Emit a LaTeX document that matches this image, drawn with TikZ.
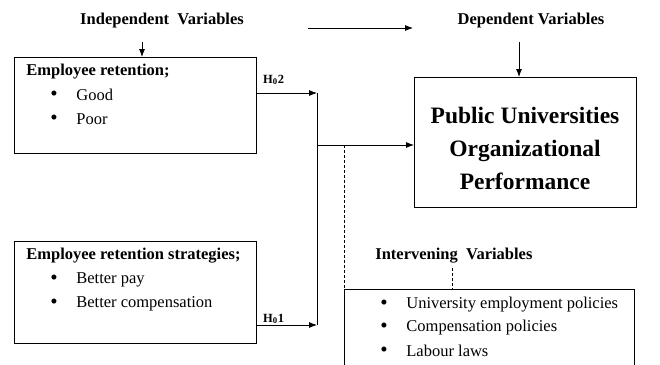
\documentclass[tikz,border=0pt]{standalone}
\usepackage{fontspec}
\setmainfont{Liberation Serif}
\usetikzlibrary{arrows.meta, positioning, calc}

\newcommand{\bul}{\makebox[26pt][l]{\raisebox{-0.5pt}{\fontsize{21}{21}\selectfont\textbullet}}}

\begin{document}
\begin{tikzpicture}[x=1pt, y=-1pt,
        line width=0.8pt,
        box/.style={rectangle, draw=black, line width=0.8pt, inner sep=0pt},
        heading/.style={font=\bfseries\fontsize{16.5}{18}\selectfont, inner sep=0pt},
        item/.style={anchor=west, inner sep=0pt, font=\fontsize{16.5}{18}\selectfont},
        hyp/.style={inner sep=0pt, font=\bfseries\fontsize{12.5}{14}\selectfont},
        arrow/.style={-{Latex[length=8pt, width=6pt]}},
        dashedline/.style={dashed, dash pattern=on 3pt off 2pt, line width=0.6pt}
    ]
        \useasboundingbox (0,0) rectangle (660,364);
        \clip (0,0) rectangle (660,364);
        % headings
        \node[heading] (indep) at (162,21) {Independent\ \ Variables};
        \node[heading] (dep) at (531,21) {Dependent Variables};
        \node[heading, anchor=west] (intlbl) at (375,256) {Intervening\ \ Variables};
        % boxes
        \node[box, anchor=north west, minimum width=242, minimum height=96] (ret) at (14,57) {};
        \node[box, anchor=north west, minimum width=242, minimum height=102] (strat) at (14,241) {};
        \node[box, anchor=north west, minimum width=222, minimum height=130] (perf) at (414,77) {};
        \node[align=center, inner sep=0pt, font=\bfseries\fontsize{23.5}{33}\selectfont] (perftxt)
              at (525,148) {Public Universities\\Organizational\\Performance};
        \node[box, anchor=north west, minimum width=290, minimum height=100] (interv) at (344,289) {};
        % box contents
        \node[heading, anchor=west] (rettitle) at (26,72) {Employee retention;};
        \foreach \txt [count=\i] in {Good, Poor}
            \node[item] (ret-\i) at (50,71+24*\i) {\bul\txt};
        \node[heading, anchor=west] (strattitle) at (26,256) {Employee retention strategies;};
        \foreach \txt [count=\i] in {Better pay, Better compensation}
            \node[item] (strat-\i) at (50,256+24*\i) {\bul\txt};
        \foreach \txt [count=\i] in {University employment policies, Compensation policies, Labour laws}
            \node[item] (interv-\i) at (380,282+23*\i) {\bul\txt};
        % bus coordinates
        \coordinate (busTop) at (317,93);
        \coordinate (busBot) at (317,325);
        \coordinate (busMid) at (317,145);
        \coordinate (dashTop) at (344,145);
        \coordinate (flowA) at (308,28);
        \coordinate (flowB) at (413,28);
        \coordinate (indTip) at (142,42);
        \coordinate (depTip) at (519,42);
        \coordinate (intTip) at (452,268);
        % connectors
        \draw[arrow] (indTip) -- (indTip |- ret.north);
        \draw[arrow] (flowA) -- (flowB);
        \draw[arrow] (depTip) -- (depTip |- perf.north);
        \draw[arrow] (ret.east |- busTop) -- (busTop);
        \draw[arrow] (strat.east |- busBot) -- (busBot);
        \node[hyp, anchor=base west] (h2) at ([xshift=6pt, yshift=10pt]ret.east |- busTop) {H\textsubscript{0}2};
        \node[hyp, anchor=base west] (h1) at ([xshift=6pt, yshift=3pt]strat.east |- busBot) {H\textsubscript{0}1};
        \draw (busTop) -- (busBot);
        \draw[arrow] (busMid) -- (perf.west |- busMid);
        \draw[dashedline] (dashTop) -- (interv.north west);
        \draw[dashedline] (intTip) -- (intTip |- interv.north);
    \end{tikzpicture}
\end{document}
